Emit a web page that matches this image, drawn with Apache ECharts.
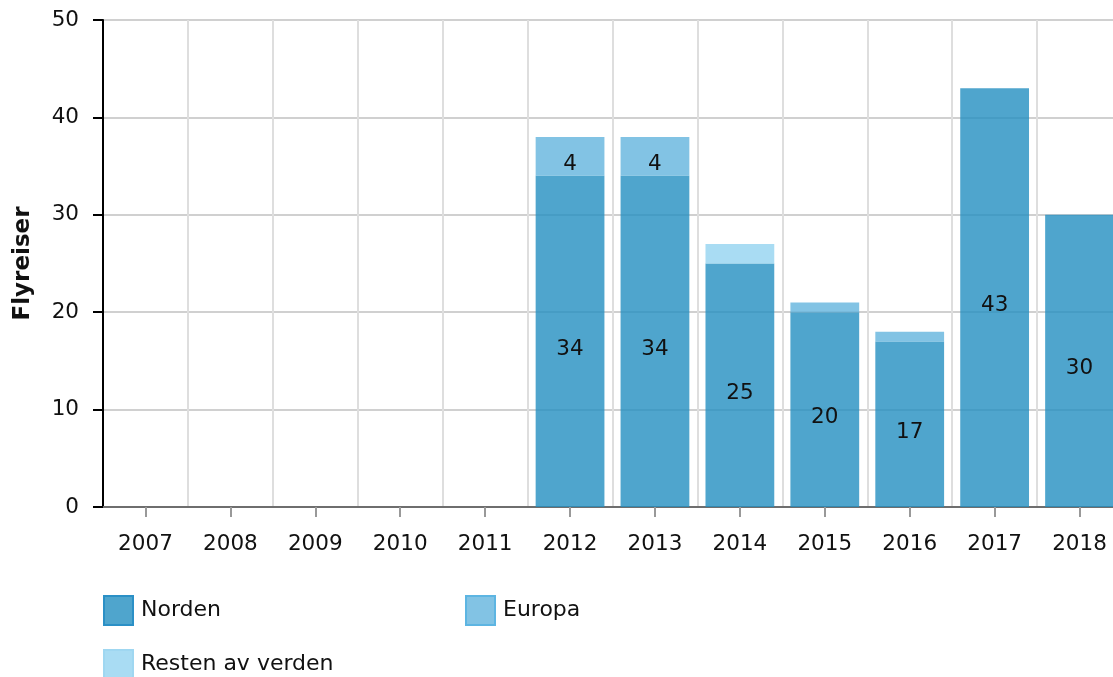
<!DOCTYPE html>
<html>
<head>
<meta charset="utf-8">
<script src="https://cdn.jsdelivr.net/npm/echarts@6/dist/echarts.min.js"></script>
<style>
  html, body { margin: 0; padding: 0; background: #fff; }
  #chart { width: 1113px; height: 677px; }
</style>
</head>
<body>
<div id="chart"></div>
<script>
// data
const years = ['2007', '2008', '2009', '2010', '2011', '2012', '2013', '2014', '2015', '2016', '2017', '2018']
const norden = [null, null, null, null, null, 34, 34, 25, 20, 17, 43, 30]
const europa = [null, null, null, null, null, 4, 4, null, 1, 1, null, null]
const restenAvVerden = [null, null, null, null, null, null, null, 2, null, null, null, null]
const yTicks = [0, 10, 20, 30, 40, 50]

const font = '"DejaVu Sans", Verdana, sans-serif'

const myChart = echarts.init(document.getElementById('chart'))

// labels only on the bigger pieces
const labelCfg = {
  show: true,
  position: 'inside',
  offset: [0, 8],
  color: '#111',
  fontSize: 21.5,
  fontFamily: font,
  formatter: (p) => (p.value >= 3 ? p.value : '')
}

const makeSeries = (name, data, color) => ({
  name: name,
  type: 'bar',
  stack: 'total',
  data: data,
  barCategoryGap: '19%',
  itemStyle: { color: color },
  label: labelCfg,
  emphasis: { disabled: true },
  z: 3
})

// one legend per item, so rows can be placed like the original
const makeLegend = (name, left, top, border) => ({
  data: [{ name: name, icon: 'rect', itemStyle: { borderColor: border, borderWidth: 2 } }],
  left: left,
  top: top,
  orient: 'horizontal',
  itemWidth: 29,
  itemHeight: 29,
  padding: 0,
  textStyle: { fontSize: 22, fontFamily: font, color: '#111', padding: [0, 0, 0, 3] },
  selectedMode: false
})

const options = {
  animation: false,
  grid: {
    left: 103,
    top: 20,
    width: 1019,
    height: 487,
    containLabel: false,
    outerBoundsMode: 'none'
  },
  legend: [
    makeLegend('Norden', 103, 595, '#2b90c6'),
    makeLegend('Europa', 465, 595, '#5db5e2'),
    makeLegend('Resten av verden', 103, 649, '#9fd7f1')
  ],
  xAxis: {
    type: 'category',
    data: years,
    axisLine: { lineStyle: { color: '#6e6e6e', width: 2 } },
    axisTick: { show: true, alignWithLabel: true, length: 10, lineStyle: { color: '#999', width: 2 } },
    axisLabel: { color: '#111', fontSize: 21.5, fontFamily: font, margin: 26 },
    splitLine: { show: true, lineStyle: { color: '#dedede', width: 2 } }
  },
  yAxis: {
    type: 'value',
    min: yTicks[0],
    max: yTicks[yTicks.length - 1],
    interval: 10,
    name: 'Flyreiser',
    nameLocation: 'middle',
    nameGap: 68,
    nameRotate: 90,
    nameTextStyle: { fontSize: 23, fontWeight: 'bold', fontFamily: font, color: '#111' },
    axisLine: { show: true, lineStyle: { color: '#000', width: 2 } },
    axisTick: { show: true, length: 10, lineStyle: { color: '#000', width: 2 } },
    axisLabel: { color: '#111', fontSize: 21.5, fontFamily: font, margin: 24 },
    splitLine: { show: true, lineStyle: { color: '#d0d0d0', width: 2 } }
  },
  series: [
    makeSeries('Norden', norden, 'rgba(35,143,193,0.8)'),
    makeSeries('Europa', europa, 'rgba(99,180,221,0.8)'),
    makeSeries('Resten av verden', restenAvVerden, 'rgba(148,211,240,0.8)')
  ]
}

myChart.setOption(options)
</script>
</body>
</html>
